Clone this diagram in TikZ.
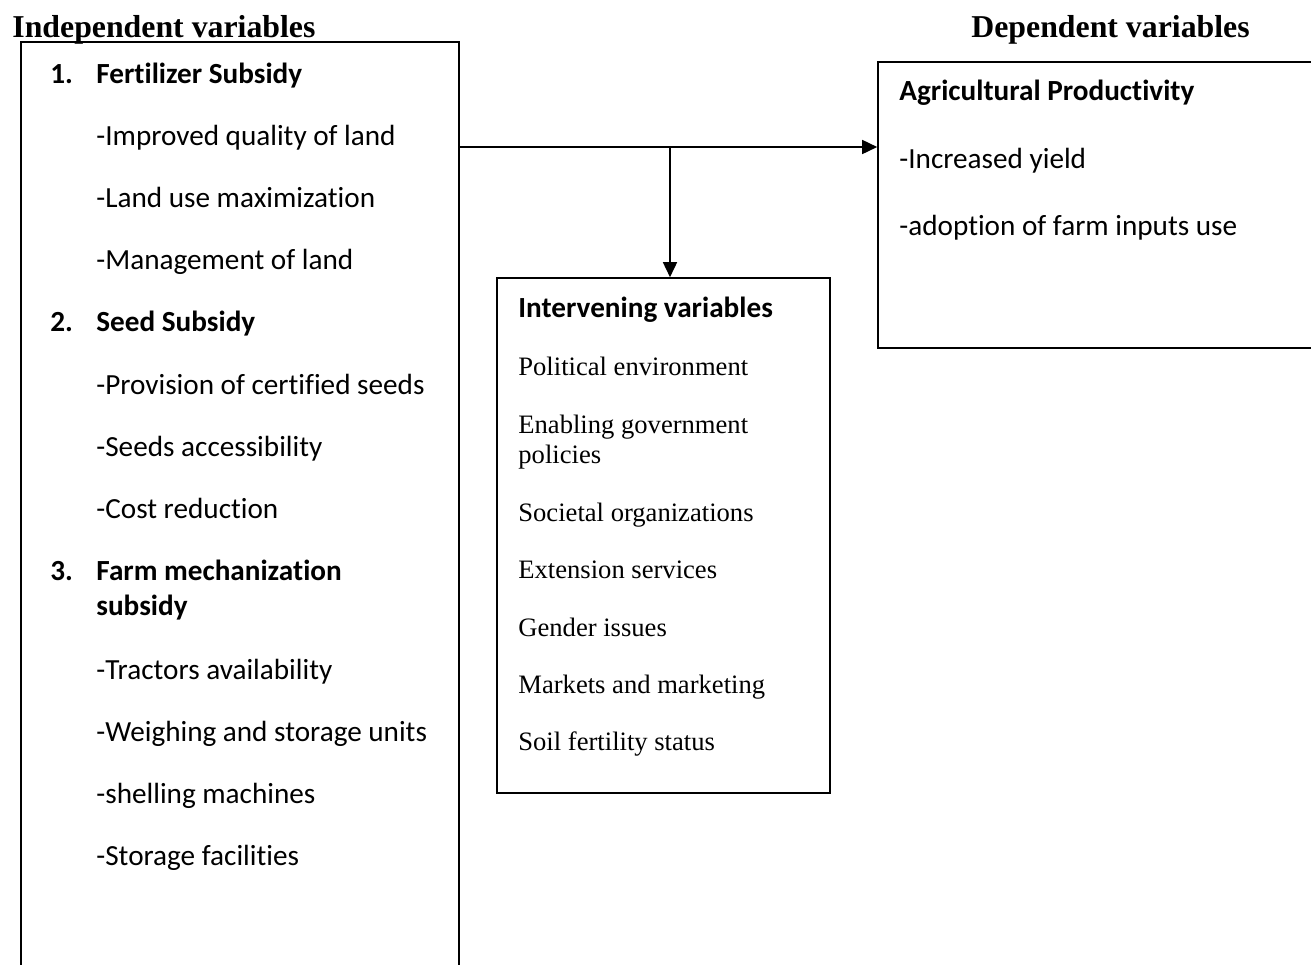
\documentclass[tikz,border=0pt]{standalone}
\usepackage{fontspec}
\setmainfont[Ligatures=NoCommon]{Carlito}
\newfontfamily\tnr{Liberation Serif}
\usetikzlibrary{arrows.meta,fit}
\tikzset{
  box/.style={draw,line width=0.8pt,inner sep=0pt,fit=#1},
  cal/.style={anchor=base west,inner sep=0pt,font=\fontsize{14.6pt}{17pt}\selectfont},
  calb/.style={cal,font=\fontsize{14.6pt}{17pt}\selectfont\bfseries},
  tms/.style={anchor=base west,inner sep=0pt,font=\tnr\fontsize{13.3pt}{15pt}\selectfont},
  ttl/.style={anchor=base west,inner sep=0pt,font=\tnr\fontsize{15.9pt}{18pt}\selectfont\bfseries},
  arr/.style={line width=0.8pt,-{Triangle[length=7.5pt,width=7pt]}}
}
\begin{document}
\begin{tikzpicture}[x=0.5pt,y=-0.5pt]
\useasboundingbox (0,0) rectangle (1311,964);
\clip (0,0) rectangle (1311,964);
% boxes
\coordinate (l1) at (21,42); \coordinate (l2) at (459,1010);
\coordinate (r1) at (878,62); \coordinate (r2) at (1330,348);
\coordinate (m1) at (497,278); \coordinate (m2) at (830,793);
\node[box=(l1)(l2)] (left) {};
\node[box=(r1)(r2)] (right) {};
\node[box=(m1)(m2)] (mid) {};
% titles
\node[ttl] (tind) at (12,37) {Independent variables};
\node[ttl] (tdep) at (971,37) {Dependent variables};
% left box content
\node[calb] (n1) at (50,83) {1.};
\node[calb] (h1) at (96,83) {Fertilizer Subsidy};
\node[cal] (a1) at (96,145) {-Improved quality of land};
\node[cal] (a2) at (96,207) {-Land use maximization};
\node[cal] (a3) at (96,269) {-Management of land};
\node[calb] (n2) at (50,331) {2.};
\node[calb] (h2) at (96,331) {Seed Subsidy};
\node[cal] (b1) at (96,394) {-Provision of certified seeds};
\node[cal] (b2) at (96,456) {-Seeds accessibility};
\node[cal] (b3) at (96,518) {-Cost reduction};
\node[calb] (n3) at (50,580) {3.};
\node[calb] (h3) at (96,580) {Farm mechanization};
\node[calb] (h3b) at (96,615) {subsidy};
\node[cal] (c1) at (96,679) {-Tractors availability};
\node[cal] (c2) at (96,741) {-Weighing and storage units};
\node[cal] (c3) at (96,803) {-shelling machines};
\node[cal] (c4) at (96,865) {-Storage facilities};
% middle box content
\node[calb] (hm) at (518,317) {Intervening variables};
\node[tms] (m1t) at (518,375) {Political environment};
\node[tms] (m2t) at (518,433) {Enabling government};
\node[tms] (m2b) at (518,463) {policies};
\node[tms] (m3t) at (518,521) {Societal organizations};
\node[tms] (m4t) at (518,578) {Extension services};
\node[tms] (m5t) at (518,636) {Gender issues};
\node[tms] (m6t) at (518,693) {Markets and marketing};
\node[tms] (m7t) at (518,750) {Soil fertility status};
% right box content
\node[calb] (hr) at (899,100) {Agricultural Productivity};
\node[cal] (r1t) at (899,168) {-Increased yield};
\node[cal] (r2t) at (899,235) {-adoption of farm inputs use};
% connectors
\coordinate (j) at (670,147);
\draw[arr] (left.east |- j) -- (right.west |- j);
\draw[arr] (j) -- (j |- mid.north);
\end{tikzpicture}
\end{document}
